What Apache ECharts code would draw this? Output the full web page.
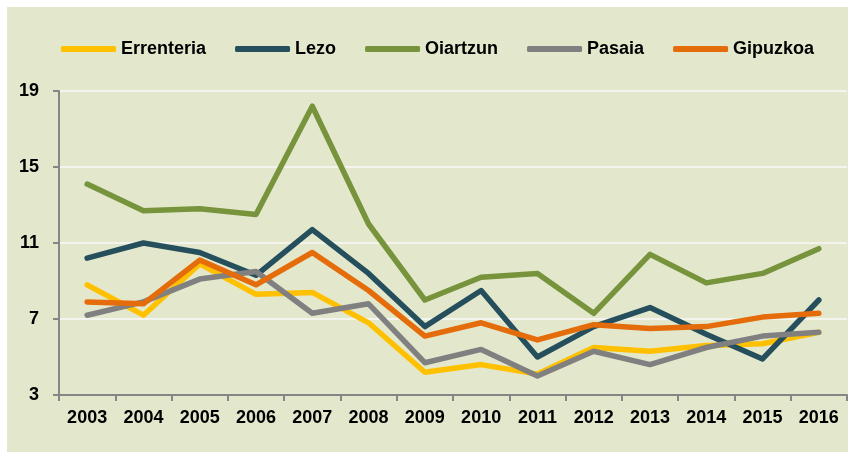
<!DOCTYPE html>
<html>
<head>
<meta charset="utf-8">
<script src="https://cdn.jsdelivr.net/npm/echarts@6/dist/echarts.min.js"></script>
<style>
  html, body { margin: 0; padding: 0; background: #fff; }
  #chart { position: absolute; left: 7px; top: 7px; width: 841px; height: 445px; background: #E3E8CC; }
</style>
</head>
<body>
<div id="chart"></div>
<script>
// years on the x axis
var years = ['2003', '2004', '2005', '2006', '2007', '2008', '2009', '2010', '2011', '2012', '2013', '2014', '2015', '2016'];

// values
var errenteria = [8.8, 7.2, 9.9, 8.3, 8.4, 6.8, 4.2, 4.6, 4.1, 5.5, 5.3, 5.6, 5.7, 6.3];
var lezo       = [10.2, 11.0, 10.5, 9.3, 11.7, 9.4, 6.6, 8.5, 5.0, 6.6, 7.6, 6.2, 4.9, 8.0];
var oiartzun   = [14.1, 12.7, 12.8, 12.5, 18.2, 12.0, 8.0, 9.2, 9.4, 7.3, 10.4, 8.9, 9.4, 10.7];
var pasaia     = [7.2, 7.9, 9.1, 9.5, 7.3, 7.8, 4.7, 5.4, 4.0, 5.3, 4.6, 5.5, 6.1, 6.3];
var gipuzkoa   = [7.9, 7.8, 10.1, 8.8, 10.5, 8.5, 6.1, 6.8, 5.9, 6.7, 6.5, 6.6, 7.1, 7.3];

var yTicks = { min: 3, max: 19, interval: 4 };

var myChart = echarts.init(document.getElementById('chart'));

function line(name, color, data) {
    return {
        name: name,
        type: 'line',
        data: data,
        symbol: 'none',
        lineStyle: { width: 5.5, color: color, cap: 'round', join: 'round' },
        itemStyle: { color: color },
        emphasis: { disabled: true }
    };
}

var option = {
    animation: false,
    textStyle: { fontFamily: 'Liberation Sans' },
    legend: {
        left: 49,
        top: 28,
        icon: 'roundRect',
        itemWidth: 55,
        itemHeight: 6,
        itemGap: 29,
        textStyle: { fontFamily: 'Liberation Sans', fontWeight: 'bold', fontSize: 18, color: '#000' },
        data: ['Errenteria', 'Lezo', 'Oiartzun', 'Pasaia', 'Gipuzkoa']
    },
    grid: {
        left: 52,
        right: 1,
        top: 84,
        bottom: 57,
        containLabel: false
    },
    xAxis: {
        type: 'category',
        data: years,
        boundaryGap: true,
        axisLine: { lineStyle: { color: '#868686', width: 2 } },
        axisTick: { show: true, length: 6, lineStyle: { color: '#868686', width: 2 } },
        axisLabel: {
            margin: 14,
            color: '#000',
            fontWeight: 'bold',
            fontSize: 18,
            fontFamily: 'Liberation Sans'
        }
    },
    yAxis: {
        type: 'value',
        min: yTicks.min,
        max: yTicks.max,
        interval: yTicks.interval,
        axisLine: { show: true, lineStyle: { color: '#868686', width: 2 } },
        axisTick: { show: true, length: 6, lineStyle: { color: '#868686', width: 2 } },
        splitLine: { show: true, lineStyle: { color: '#F4F4EE', width: 2 } },
        axisLabel: {
            margin: 20,
            color: '#000',
            fontWeight: 'bold',
            fontSize: 18,
            fontFamily: 'Liberation Sans'
        }
    },
    series: [
        line('Errenteria', '#FFC000', errenteria),
        line('Lezo', '#254F5C', lezo),
        line('Oiartzun', '#77933C', oiartzun),
        line('Pasaia', '#808080', pasaia),
        line('Gipuzkoa', '#E46C0A', gipuzkoa)
    ]
};

myChart.setOption(option);
window.addEventListener('resize', function () {
    myChart.resize();
});
</script>
</body>
</html>
